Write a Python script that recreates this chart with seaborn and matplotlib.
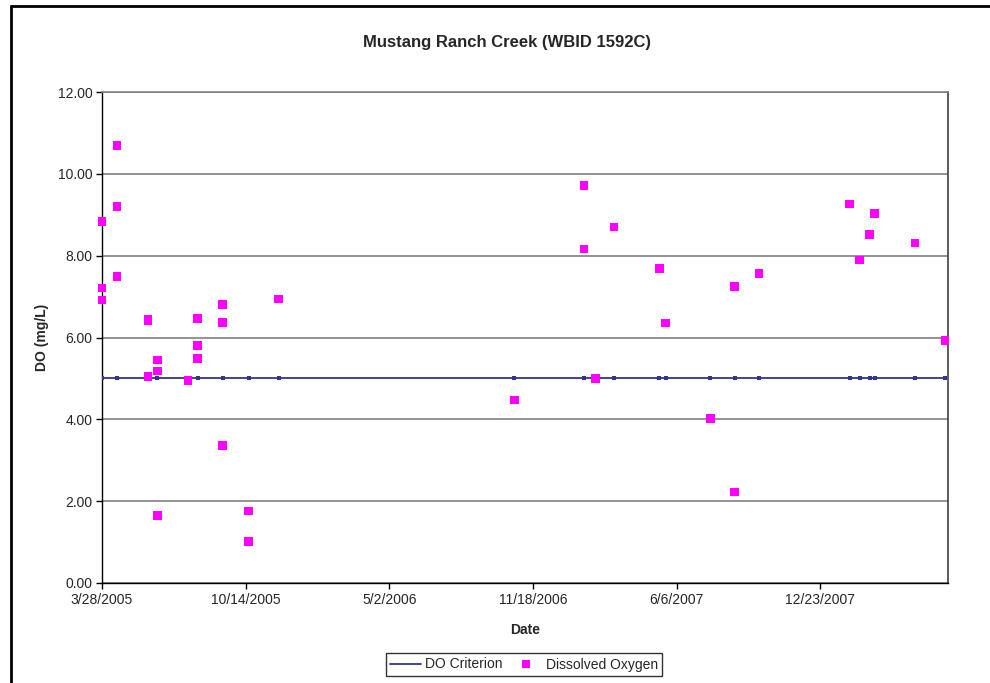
import datetime as dt
import pandas as pd
import seaborn as sns
import matplotlib.pyplot as plt
import matplotlib.dates as mdates
from matplotlib.lines import Line2D
from matplotlib.ticker import FuncFormatter

# Sample dates and dissolved oxygen readings (mg/L)
sample_dates = [
    "2005-03-28", "2005-03-28", "2005-03-28",
    "2005-04-18", "2005-04-18", "2005-04-18",
    "2005-05-31", "2005-05-31", "2005-05-31",
    "2005-06-13", "2005-06-13", "2005-06-13",
    "2005-07-26",
    "2005-08-08", "2005-08-08", "2005-08-08",
    "2005-09-12", "2005-09-12", "2005-09-12",
    "2005-10-18", "2005-10-18",
    "2005-11-29",
    "2006-10-23",
    "2007-01-28", "2007-01-28",
    "2007-02-13",
    "2007-03-11",
    "2007-05-13",
    "2007-05-22",
    "2007-07-23",
    "2007-08-26", "2007-08-26",
    "2007-09-29",
    "2008-02-02",
    "2008-02-16",
    "2008-03-01",
    "2008-03-08",
    "2008-05-03",
    "2008-06-14",
]
do_values = [
    8.83, 7.21, 6.92,
    10.69, 9.20, 7.49,
    6.45, 6.40, 5.04,
    5.45, 5.18, 1.65,
    4.95,
    6.46, 5.81, 5.48,
    6.80, 6.36, 3.36,
    1.76, 1.02,
    6.94,
    4.47,
    9.71, 8.16,
    5.00,
    8.70,
    7.69,
    6.35,
    4.02,
    7.25, 2.22,
    7.56,
    9.26,
    7.89,
    8.52,
    9.03,
    8.31,
    5.92,
]
criterion = 5.0

df = pd.DataFrame({"Date": pd.to_datetime(sample_dates), "DO": do_values})
df["Criterion"] = criterion

sns.set_style("white")
plt.rcParams["font.family"] = ["Liberation Sans", "DejaVu Sans"]

fig = plt.figure(figsize=(9.9, 6.83), dpi=100)
ax = fig.add_axes([102 / 990, 1 - 583 / 683, 846 / 990, 491 / 683])

line_color = "#333399"
dot_color = "#FF00FF"

sns.lineplot(data=df, x="Date", y="Criterion", ax=ax, color=line_color,
             linewidth=1.3, marker="s", markersize=2.2, markeredgewidth=0,
             estimator=None, errorbar=None, zorder=3)
sns.scatterplot(data=df, x="Date", y="DO", ax=ax, color=dot_color,
                marker="s", s=38, edgecolor="none", zorder=4, clip_on=False)

# axis range and ticks
start = pd.Timestamp("2005-03-28")
ticks = [start + pd.Timedelta(days=200 * i) for i in range(6)]
ax.set_xlim(start, pd.Timestamp("2008-06-18"))
ax.set_xticks(ticks)
ax.xaxis.set_major_formatter(FuncFormatter(
    lambda v, pos: (lambda d: f"{d.month}/{d.day}/{d.year}")(mdates.num2date(v))))
ax.set_ylim(0, 12)
ax.set_yticks([0, 2, 4, 6, 8, 10, 12])
ax.yaxis.set_major_formatter(FuncFormatter(lambda v, pos: f"{v:.2f}"))

ax.yaxis.grid(True, color="#808080", linewidth=1.2)
ax.xaxis.grid(False)
ax.tick_params(axis="both", direction="out", length=4, width=1, color="black",
               labelsize=10, left=True, bottom=True, pad=3)

for side in ["left", "bottom"]:
    ax.spines[side].set_color("black")
    ax.spines[side].set_linewidth(1)
ax.spines["top"].set_color("#808080")
ax.spines["top"].set_linewidth(1.2)
ax.spines["right"].set_color("#404040")
ax.spines["right"].set_linewidth(1.2)

ax.set_xlabel("Date", fontsize=10, fontweight="bold", labelpad=12)
ax.set_ylabel("DO (mg/L)", fontsize=10, fontweight="bold", labelpad=6)
fig.text(507 / 990, 1 - 43 / 683, "Mustang Ranch Creek (WBID 1592C)",
         ha="center", va="center", fontsize=12, fontweight="bold")

handles = [
    Line2D([], [], color=line_color, linewidth=1.3),
    Line2D([], [], color=dot_color, marker="s", linestyle="none",
           markersize=6, markeredgewidth=0),
]
leg = fig.legend(handles, ["DO Criterion", "Dissolved Oxygen"], ncol=2,
                 loc="center", bbox_to_anchor=(524 / 990, 1 - 664.5 / 683),
                 fontsize=10, frameon=True, fancybox=False, handlelength=2.2,
                 columnspacing=0.6, handletextpad=0.3, borderpad=0.3,
                 borderaxespad=0)
leg.get_frame().set_edgecolor("black")
leg.get_frame().set_linewidth(1)

# outer chart border (left and top edges visible)
fig.add_artist(Line2D([10.5 / 990, 10.5 / 990], [0, 1 - 6 / 683],
                      color="black", linewidth=2, transform=fig.transFigure))
fig.add_artist(Line2D([10.5 / 990, 1], [1 - 6 / 683, 1 - 6 / 683],
                      color="black", linewidth=2, transform=fig.transFigure))

fig.savefig("out.png", dpi=100)
